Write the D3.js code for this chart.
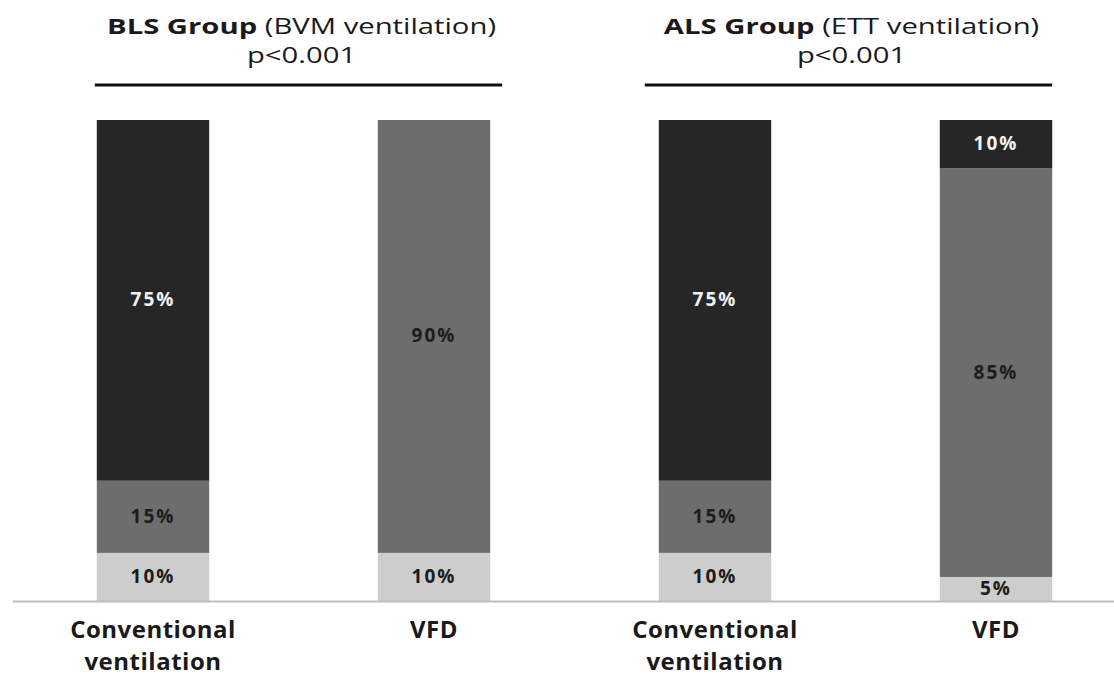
<!DOCTYPE html>
<html>
<head>
<meta charset="utf-8">
<script src="https://cdn.jsdelivr.net/npm/d3@7"></script>
<style>
  body { margin: 0; background: #fff; }
  text { font-family: "Open Sans", sans-serif; }
</style>
</head>
<body>
<script>
var w = 1114;
var h = 677;

// data
var categories = ["BLS Conventional", "BLS VFD", "ALS Conventional", "ALS VFD"];
var catLabels = [["Conventional", "ventilation"], ["VFD"], ["Conventional", "ventilation"], ["VFD"]];
var lowValues = [10, 10, 10, 5];
var midValues = [15, 90, 15, 85];
var highValues = [75, 0, 75, 10];
var groupNames = ["BLS Group", "ALS Group"];
var groupSubs = ["(BVM ventilation)", "(ETT ventilation)"];
var groupP = ["p<0.001", "p<0.001"];
var groupMembers = [[0, 1], [2, 3]];

var keys = ["low", "mid", "high"];
var colors = { low: "#cdcdcd", mid: "#6d6d6d", high: "#262626" };
var labelColors = { low: "#1c1c1c", mid: "#1c1c1c", high: "#f2f2f2" };

var table = categories.map(function(c, i) {
    return { cat: c, low: lowValues[i], mid: midValues[i], high: highValues[i] };
});

var stack = d3.stack().keys(keys);
var series = stack(table);

//Create scale functions
var xScale = d3.scaleBand()
    .domain(categories)
    .range([12.5, 1136.5])
    .paddingInner(0.6)
    .paddingOuter(0.3);
var yScale = d3.scaleLinear()
    .domain([0, 100])
    .range([601, 120]);

var svg = d3.select("body")
    .append("svg")
    .attr("width", w)
    .attr("height", h);

//Bars
var layers = svg.selectAll("g.layer")
    .data(series)
    .enter()
    .append("g")
    .attr("class", "layer")
    .attr("fill", function(d) { return colors[d.key]; });

layers.selectAll("rect")
    .data(function(d) { return d; })
    .enter()
    .append("rect")
    .attr("x", function(d) { return xScale(d.data.cat); })
    .attr("y", function(d) { return yScale(d[1]); })
    .attr("width", xScale.bandwidth())
    .attr("height", function(d) { return yScale(d[0]) - yScale(d[1]); });

//Segment labels
series.forEach(function(s) {
    svg.append("g")
        .selectAll("text")
        .data(s.filter(function(d) { return d[1] - d[0] > 0; }))
        .enter()
        .append("text")
        .attr("x", function(d) { return xScale(d.data.cat) + xScale.bandwidth() / 2; })
        .attr("y", function(d) { return (yScale(d[0]) + yScale(d[1])) / 2 + 6; })
        .attr("text-anchor", "middle")
        .attr("font-size", 19)
        .attr("font-weight", "bold")
        .attr("letter-spacing", 2)
        .attr("fill", labelColors[s.key])
        .text(function(d) { return (d[1] - d[0]) + "%"; });
});

//Axis line
svg.append("line")
    .attr("x1", 13)
    .attr("x2", w)
    .attr("y1", yScale(0) + 0.5)
    .attr("y2", yScale(0) + 0.5)
    .attr("stroke", "#bdbdbd")
    .attr("stroke-width", 2);

//Category labels
categories.forEach(function(c, i) {
    var t = svg.append("text")
        .attr("text-anchor", "middle")
        .attr("font-size", 24)
        .attr("font-weight", "bold")
        .attr("letter-spacing", 0.5)
        .attr("fill", "#1a1a1a");
    catLabels[i].forEach(function(line, j) {
        t.append("tspan")
            .attr("x", xScale(c) + xScale.bandwidth() / 2)
            .attr("y", 638 + j * 32)
            .text(line);
    });
});

//Group headers
var lineOffsets = [[-2, 12], [-14, 0]];
groupNames.forEach(function(g, i) {
    var a = categories[groupMembers[i][0]];
    var b = categories[groupMembers[i][1]];
    var x1 = xScale(a) + lineOffsets[i][0];
    var x2 = xScale(b) + xScale.bandwidth() + lineOffsets[i][1];
    var cx = (x1 + x2) / 2;
    var t = svg.append("text")
        .attr("transform", "translate(" + (cx + 3) + ",34) scale(1.33,1)")
        .attr("text-anchor", "middle")
        .attr("font-size", 22)
        .attr("fill", "#1a1a1a");
    t.append("tspan").attr("font-weight", "bold").text(g + " ");
    t.append("tspan").text(groupSubs[i]);
    svg.append("text")
        .attr("transform", "translate(" + (cx + 3) + ",63) scale(1.33,1)")
        .attr("text-anchor", "middle")
        .attr("font-size", 22)
        .attr("fill", "#1a1a1a")
        .text(groupP[i]);
    svg.append("line")
        .attr("x1", x1)
        .attr("x2", x2)
        .attr("y1", 85)
        .attr("y2", 85)
        .attr("stroke", "#111")
        .attr("stroke-width", 3);
});
</script>
</body>
</html>
